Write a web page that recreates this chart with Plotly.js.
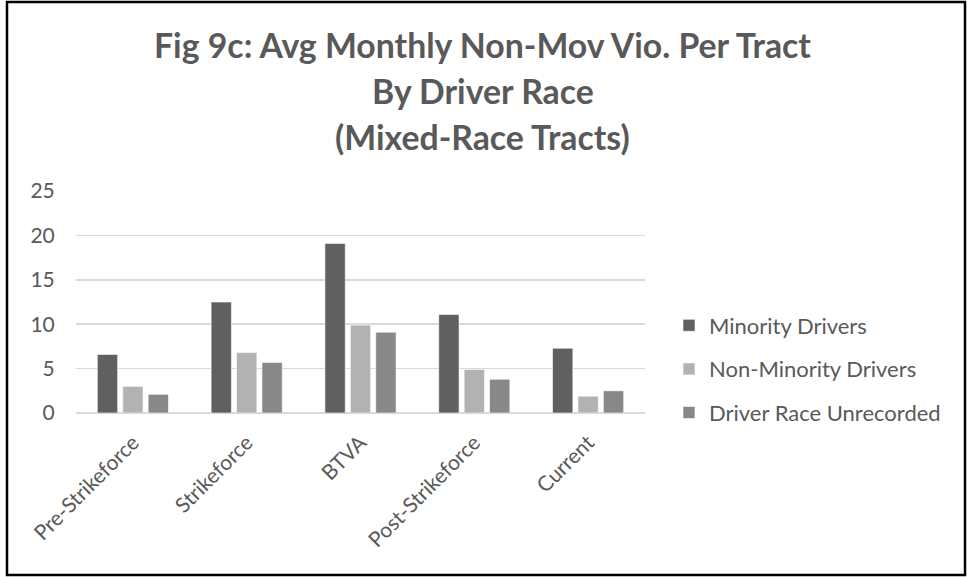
<!DOCTYPE html>
<html>
<head>
<meta charset="utf-8">
<script src="https://cdn.plot.ly/plotly-3.0.1.min.js"></script>
<style>html,body{margin:0;padding:0;background:#fff;}#chart{width:967px;height:577px;}</style>
</head>
<body>
<div id="chart"></div>
<script>
const categories = ["Pre-Strikeforce", "Strikeforce", "BTVA", "Post-Strikeforce", "Current"];
const minorityDrivers = [6.6, 12.5, 19.1, 11.1, 7.3];
const nonMinorityDrivers = [3.0, 6.8, 9.9, 4.9, 1.9];
const raceUnrecorded = [2.1, 5.7, 9.1, 3.8, 2.5];
const seriesNames = ["Minority Drivers", "Non-Minority Drivers", "Driver Race Unrecorded"];
const yTicks = [0, 5, 10, 15, 20, 25];
const titleLines = ["Fig 9c: Avg Monthly Non-Mov Vio. Per Tract", "By Driver Race", "(Mixed-Race Tracts)"];

const colors = ["#606060", "#b2b2b2", "#888888"];
const seriesValues = [minorityDrivers, nonMinorityDrivers, raceUnrecorded];
const FONT = "Lato, 'Open Sans', sans-serif";

const traces = seriesValues.map((vals, i) => ({
  type: "bar",
  name: seriesNames[i],
  x: categories,
  y: vals,
  legendgroup: "g" + i,
  marker: {color: colors[i], line: {color: "rgba(255,255,255,0.6)", width: 1}},
  hoverinfo: "x+y+name"
}));

const W = 967, H = 577;
const L = 76, R = 322, T = 191, B = 164;
const pw = W - L - R, ph = H - T - B;
const px = x => (x - L) / pw;
const py = y => (H - B - y) / ph;

const titleTops = [23, 69, 115];

const layout = {
  width: W, height: H,
  margin: {l: L, r: R, t: T, b: B, pad: 0},
  paper_bgcolor: "#ffffff",
  plot_bgcolor: "#ffffff",
  font: {family: FONT, color: "#595959", size: 21},
  annotations: titleLines.map((s, i) => ({
    text: "<b>" + s + "</b>",
    xref: "paper", yref: "paper",
    x: px(483), xanchor: "center",
    y: py(titleTops[i]), yanchor: "top",
    showarrow: false,
    font: {family: FONT, size: 33.8, color: "#595959"}
  })),
  bargap: 0.33,
  bargroupgap: 0.2,
  xaxis: {
    type: "category",
    tickangle: -45,
    showgrid: false,
    showline: false,
    ticks: "outside",
    ticklen: 8,
    tickcolor: "rgba(0,0,0,0)",
    tickfont: {family: FONT, size: 21, color: "#595959"},
    fixedrange: true
  },
  yaxis: {
    range: [0, 25],
    tickvals: yTicks,
    ticktext: yTicks.map(String),
    showgrid: true,
    gridcolor: "#d9d9d9",
    gridwidth: 1.5,
    zeroline: true,
    zerolinecolor: "#d9d9d9",
    zerolinewidth: 1.5,
    showline: false,
    ticks: "outside",
    ticklen: 16,
    tickcolor: "rgba(0,0,0,0)",
    tickfont: {family: FONT, size: 21, color: "#595959"},
    fixedrange: true
  },
  legend: {
    x: px(669), xanchor: "left",
    y: py(369), yanchor: "middle",
    font: {family: FONT, size: 22, color: "#595959"},
    traceorder: "grouped",
    tracegroupgap: 12,
    bgcolor: "rgba(0,0,0,0)"
  },
  shapes: [{
    type: "rect", xref: "paper", yref: "paper",
    x0: px(7), x1: px(965), y0: py(575), y1: py(2),
    line: {color: "#000000", width: 2.5},
    fillcolor: "rgba(0,0,0,0)"
  }]
};

Plotly.newPlot("chart", traces, layout, {displayModeBar: false, staticPlot: true});
</script>
</body>
</html>
